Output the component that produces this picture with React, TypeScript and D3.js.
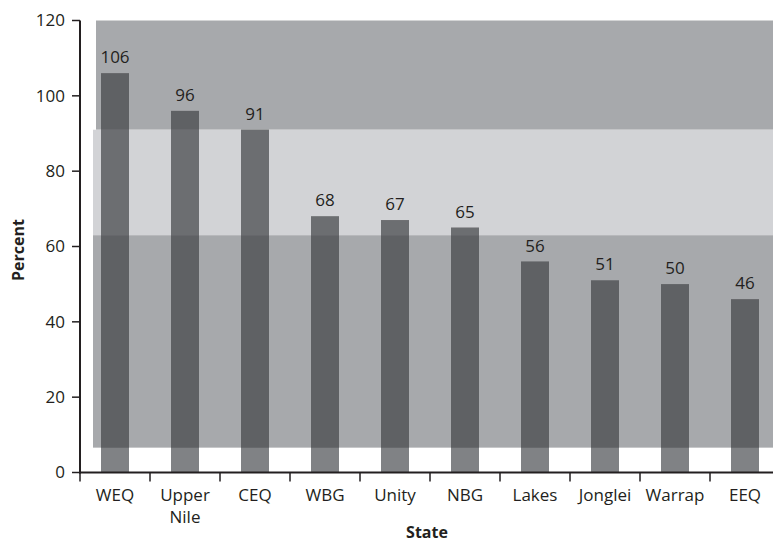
import React from "react";
import * as d3 from "d3";

const categories: string[][] = [
  ["WEQ"], ["Upper", "Nile"], ["CEQ"], ["WBG"], ["Unity"], ["NBG"], ["Lakes"], ["Jonglei"], ["Warrap"], ["EEQ"],
];
const values: number[] = [106, 96, 91, 68, 67, 65, 56, 51, 50, 46];
const yTicks: number[] = [0, 20, 40, 60, 80, 100, 120];
const bandLows: number[] = [91, 63, 6.6];
const bandHighs: number[] = [120, 91, 63];
const bandFills: string[] = ["#a7a9ac", "#d2d3d6", "#a7a9ac"];
const barFillsInBand: string[] = ["#5f6164", "#6c6e71", "#5f6164"];
const bandStartX: number[] = [96, 93, 93];

const W = 773;
const H = 544;
const x0 = 80;
const ink = "#231f20";
const font = "'Open Sans', sans-serif";

export default function App() {
  const keys = categories.map((c) => c.join(" "));
  const x = d3.scaleBand<string>().domain(keys).range([x0, x0 + 70 * keys.length]).padding(0);
  const y = d3.scaleLinear().domain([0, 120]).range([472.5, 20.5]);
  const bw = x.bandwidth() * 0.4;

  const bars = (fill: string) =>
    values.map((v, i) => (
      <rect
        key={i}
        x={(x(keys[i]) as number) + (x.bandwidth() - bw) / 2}
        y={y(v)}
        width={bw}
        height={y(0) - y(v)}
        fill={fill}
      />
    ));

  return (
    <svg
      width={W}
      height={H}
      style={{ position: "absolute", left: 0, top: 0, background: "#fff" }}
      fontFamily={font}
    >
      <defs>
        {bandLows.map((lo, i) => (
          <clipPath id={`band${i}`} key={i}>
            <rect x={0} y={y(bandHighs[i])} width={W} height={y(lo) - y(bandHighs[i])} />
          </clipPath>
        ))}
      </defs>
      {bandLows.map((lo, i) => (
        <rect
          key={i}
          x={bandStartX[i]}
          y={y(bandHighs[i])}
          width={W - bandStartX[i]}
          height={y(lo) - y(bandHighs[i])}
          fill={bandFills[i]}
        />
      ))}
      <g>{bars("#808285")}</g>
      {bandLows.map((_, i) => (
        <g key={i} clipPath={`url(#band${i})`}>
          {bars(barFillsInBand[i])}
        </g>
      ))}
      {values.map((v, i) => (
        <text
          key={i}
          x={(x(keys[i]) as number) + x.bandwidth() / 2}
          y={y(v) - 10}
          textAnchor="middle"
          fontSize={17}
          fill={ink}
        >
          {v}
        </text>
      ))}
      {/* y axis */}
      <line x1={x0} x2={x0} y1={y(120)} y2={y(0) + 1} stroke={ink} strokeWidth={2} />
      {yTicks.map((t) => (
        <g key={t}>
          <line x1={x0 - 8} x2={x0} y1={y(t)} y2={y(t)} stroke={ink} strokeWidth={1.5} />
          <text x={x0 - 15} y={y(t)} dy="0.35em" textAnchor="end" fontSize={17} fill={ink}>
            {t}
          </text>
        </g>
      ))}
      {/* x axis */}
      <line x1={x0 - 1} x2={W} y1={y(0)} y2={y(0)} stroke={ink} strokeWidth={2} />
      {keys.map((k, i) => (
        <g key={k}>
          <line
            x1={x(k) as number}
            x2={x(k) as number}
            y1={y(0)}
            y2={y(0) + 9}
            stroke={ink}
            strokeWidth={1.5}
          />
          <text
            x={(x(k) as number) + x.bandwidth() / 2}
            y={501}
            textAnchor="middle"
            fontSize={17}
            fill={ink}
          >
            {categories[i].map((line, j) => (
              <tspan key={j} x={(x(k) as number) + x.bandwidth() / 2} dy={j === 0 ? 0 : 22}>
                {line}
              </tspan>
            ))}
          </text>
        </g>
      ))}
      <text
        transform={`translate(24,250) rotate(-90)`}
        textAnchor="middle"
        fontSize={16}
        fontWeight="bold"
        fill={ink}
      >
        Percent
      </text>
      <text x={427} y={538} textAnchor="middle" fontSize={16} fontWeight="bold" fill={ink}>
        State
      </text>
    </svg>
  );
}
